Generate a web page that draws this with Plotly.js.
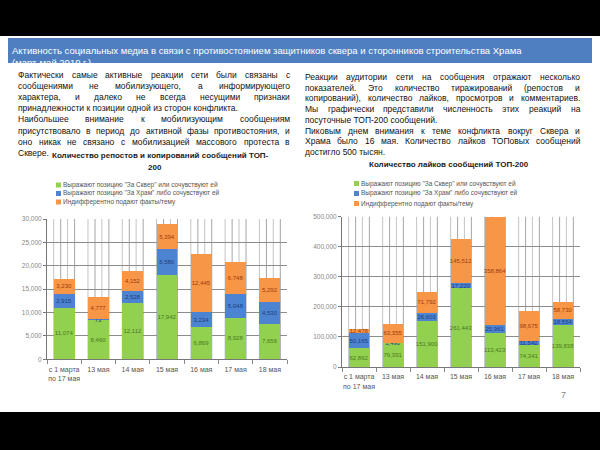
<!DOCTYPE html>
<html>
<head>
<meta charset="utf-8">
<script src="https://cdn.plot.ly/plotly-3.0.1.min.js"></script>
<style>html,body{margin:0;padding:0;background:#fff;}#chart{width:600px;height:450px;}</style>
</head>
<body>
<div id="chart"></div>
<script>
// ---------- DATA ----------
const categories = ['с 1 марта<br>по 17 мая', '13 мая', '14 мая', '15 мая', '16 мая', '17 мая', '18 мая'];
const seriesNames = ['Выражают позицию "За Сквер" или сочувствуют ей',
                     'Выражают позицию "За Храм" либо сочувствуют ей',
                     'Индифферентно подают факты/тему'];
const repostsSquare  = [11074, 8460, 12112, 17942, 6869, 8928, 7656];
const repostsTemple  = [2915, 73, 2528, 5580, 3234, 5048, 4530];
const repostsNeutral = [3230, 4777, 4152, 5394, 12445, 6748, 5292];
const likesSquare  = [62862, 79391, 151900, 261443, 113423, 74341, 139838];
const likesTemple  = [50165, 1490, 26603, 17220, 25961, 11542, 18554];
const likesNeutral = [12478, 63355, 71792, 145512, 358864, 98675, 58730];

const slideTitle = ['Активность социальных медиа в связи с противостоянием защитников сквера и сторонников строительства Храма',
                    '(март-май 2019 г.)'];
const leftLines = [
  'Фактически самые активные реакции сети были связаны с',
  'сообщениями не мобилизующего, а информирующего',
  'характера, и далеко не всегда несущими признаки',
  'принадлежности к позиции одной из сторон конфликта.',
  'Наибольшее внимание к мобилизующим сообщениям',
  'присутствовало в период до активной фазы противостояния, и',
  'оно никак не связано с мобилизацией массового протеста в',
  'Сквере.'
];
const leftJustify = [true, true, true, false, true, true, true, false];
const rightLines = [
  'Реакции аудитории сети на сообщения отражают несколько',
  'показателей. Это количество тиражирований (репостов и',
  'копирований), количество лайков, просмотров и комментариев.',
  'Мы графически представили численность этих реакций на',
  'посуточные ТОП-200 сообщений.',
  'Пиковым днем внимания к теме конфликта вокруг Сквера и',
  'Храма было 16 мая. Количество лайков ТОПовых сообщений',
  'достигло 500 тысян.'
];
const rightJustify = [true, true, true, true, false, true, true, false];
const leftChartTitle = ['Количество репостов и копирований сообщений ТОП-', '200'];
const rightChartTitle = 'Количество лайков сообщений ТОП-200';
const pageNumber = '7';

// ---------- STYLE ----------
const FONT = 'Liberation Sans, Arial, sans-serif';
const barColors = ['#92d050', '#4d84d1', '#f79646'];
const labelColors = ['#4b7a1e', '#1e3c7c', '#9e3b0e'];
const W = 600, H = 450;
const px = x => x / W;
const py = y => 1 - y / H;

// ---------- TRACES ----------
const traces = [];
function addStack(vals, xa, ya) {
  vals.forEach((v, k) => {
    traces.push({
      type: 'bar', x: categories, y: v, name: seriesNames[k],
      xaxis: xa, yaxis: ya, showlegend: false,
      marker: {color: barColors[k], line: {width: 0}},
      texttemplate: '%{y:,}', textposition: 'inside', insidetextanchor: 'middle',
      textangle: 0, constraintext: 'none',
      textfont: {size: 6, color: labelColors[k], family: FONT},
      hoverinfo: 'skip'
    });
  });
}
addStack([repostsSquare, repostsTemple, repostsNeutral], 'x', 'y');
addStack([likesSquare, likesTemple, likesNeutral], 'x2', 'y2');

// ---------- SHAPES ----------
const shapes = [
  {type: 'rect', xref: 'paper', yref: 'paper', x0: 0, x1: 1, y0: py(36), y1: 1, fillcolor: '#000', line: {width: 0}, layer: 'below'},
  {type: 'rect', xref: 'paper', yref: 'paper', x0: 0, x1: 1, y0: 0, y1: py(412), fillcolor: '#000', line: {width: 0}, layer: 'below'},
  {type: 'rect', xref: 'paper', yref: 'paper', x0: px(8), x1: px(592), y0: py(63), y1: py(38), fillcolor: '#4f7fc0', line: {width: 0}, layer: 'below'}
];
const lineOffsets = [-0.305, -0.1, 0.1, 0.305];
const lineCols = ['#c4c4c4', '#a6a6a6', '#c4c4c4', '#a6a6a6'];
function addVLines(xr, yr, top) {
  categories.forEach((c, i) => {
    lineOffsets.forEach((o, j) => {
      shapes.push({type: 'line', xref: xr, yref: yr, x0: i + o, x1: i + o, y0: 0, y1: top,
                   line: {color: lineCols[j], width: 1}, layer: 'below'});
    });
  });
}
addVLines('x', 'y', 30000);
addVLines('x2', 'y2', 500000);

// ---------- ANNOTATIONS ----------
const annotations = [];
const cv = document.createElement('canvas').getContext('2d');
function textW(t, size, bold) {
  cv.font = (bold ? 'bold ' : '') + size + 'px "Liberation Sans"';
  return cv.measureText(t).width;
}
function addText(t, x, y, size, color, anchor, bold) {
  annotations.push({text: bold ? '<b>' + t + '</b>' : t, xref: 'paper', yref: 'paper', x: px(x), y: py(y),
    xanchor: anchor || 'left', yanchor: 'middle', showarrow: false, borderpad: 0, borderwidth: 0,
    font: {size: size, color: color, family: FONT}});
}
function addParagraph(lines, just, x0, x1, y0, dy, size) {
  lines.forEach((ln, i) => {
    const y = y0 + i * dy;
    if (!just[i]) { addText(ln, x0, y, size, '#111'); return; }
    const words = ln.split(' ');
    const widths = words.map(w => textW(w, size));
    const total = widths.reduce((a, b) => a + b, 0);
    const gap = (x1 - x0 - total) / (words.length - 1);
    let x = x0;
    words.forEach((w, k) => { addText(w, x, y, size, '#111'); x += widths[k] + gap; });
  });
}
addText(slideTitle[0], 12, 50, 9.5, '#fff');
addText(slideTitle[1], 12, 62, 9.5, '#fff');
addParagraph(leftLines, leftJustify, 18, 290, 75, 11.1, 8.5);
addParagraph(rightLines, rightJustify, 305, 580, 77, 10.7, 8.5);
addText(leftChartTitle[0], 160, 155, 8, '#222', 'center', true);
addText(leftChartTitle[1], 155, 167, 8, '#222', 'center', true);
addText(rightChartTitle, 449, 164, 8, '#222', 'center', true);
function addLegend(x, ys) {
  seriesNames.forEach((n, k) => {
    shapes.push({type: 'rect', xref: 'paper', yref: 'paper', x0: px(x), x1: px(x + 5), y0: py(ys[k] + 2.5), y1: py(ys[k] - 2.5),
                 fillcolor: barColors[k], line: {width: 0}});
    addText(n, x + 7, ys[k], 6.5, '#555');
  });
}
addLegend(56, [185, 193.5, 202]);
addLegend(354, [183.5, 193.5, 203.5]);
addText(pageNumber, 563, 395, 9, '#888', 'center');

// ---------- LAYOUT ----------
const xCommon = {type: 'category', tickson: 'boundaries', ticks: 'outside', ticklen: 4, tickcolor: '#888',
  showline: true, linecolor: '#777', linewidth: 1, showgrid: false, tickangle: 0, ticklabelstandoff: 3,
  tickfont: {size: 7, color: '#555', family: FONT}, fixedrange: true};
const yCommon = {ticks: 'outside', ticklen: 3, tickcolor: '#777', showline: true, linecolor: '#777', linewidth: 1,
  gridcolor: '#8c8c8c', gridwidth: 1, zeroline: false, tickformat: ',',
  tickfont: {size: 6.5, color: '#888', family: FONT}, fixedrange: true};

const layout = {
  width: W, height: H, margin: {l: 0, r: 0, t: 0, b: 0},
  paper_bgcolor: '#fff', plot_bgcolor: 'rgba(0,0,0,0)',
  font: {family: FONT},
  barmode: 'stack', bargap: 0.39, showlegend: false,
  uniformtext: {mode: 'show', minsize: 6},
  xaxis: Object.assign({}, xCommon, {domain: [px(47), px(287)], anchor: 'y'}),
  yaxis: Object.assign({}, yCommon, {domain: [py(359.3), py(219)], range: [0, 30000], dtick: 5000, anchor: 'x'}),
  xaxis2: Object.assign({}, xCommon, {domain: [px(342), px(580)], anchor: 'y2'}),
  yaxis2: Object.assign({}, yCommon, {domain: [py(367), py(216.5)], range: [0, 500000], dtick: 100000, anchor: 'x2'}),
  shapes: shapes, annotations: annotations
};
Plotly.newPlot('chart', traces, layout, {staticPlot: true, displayModeBar: false});
</script>
</body>
</html>
